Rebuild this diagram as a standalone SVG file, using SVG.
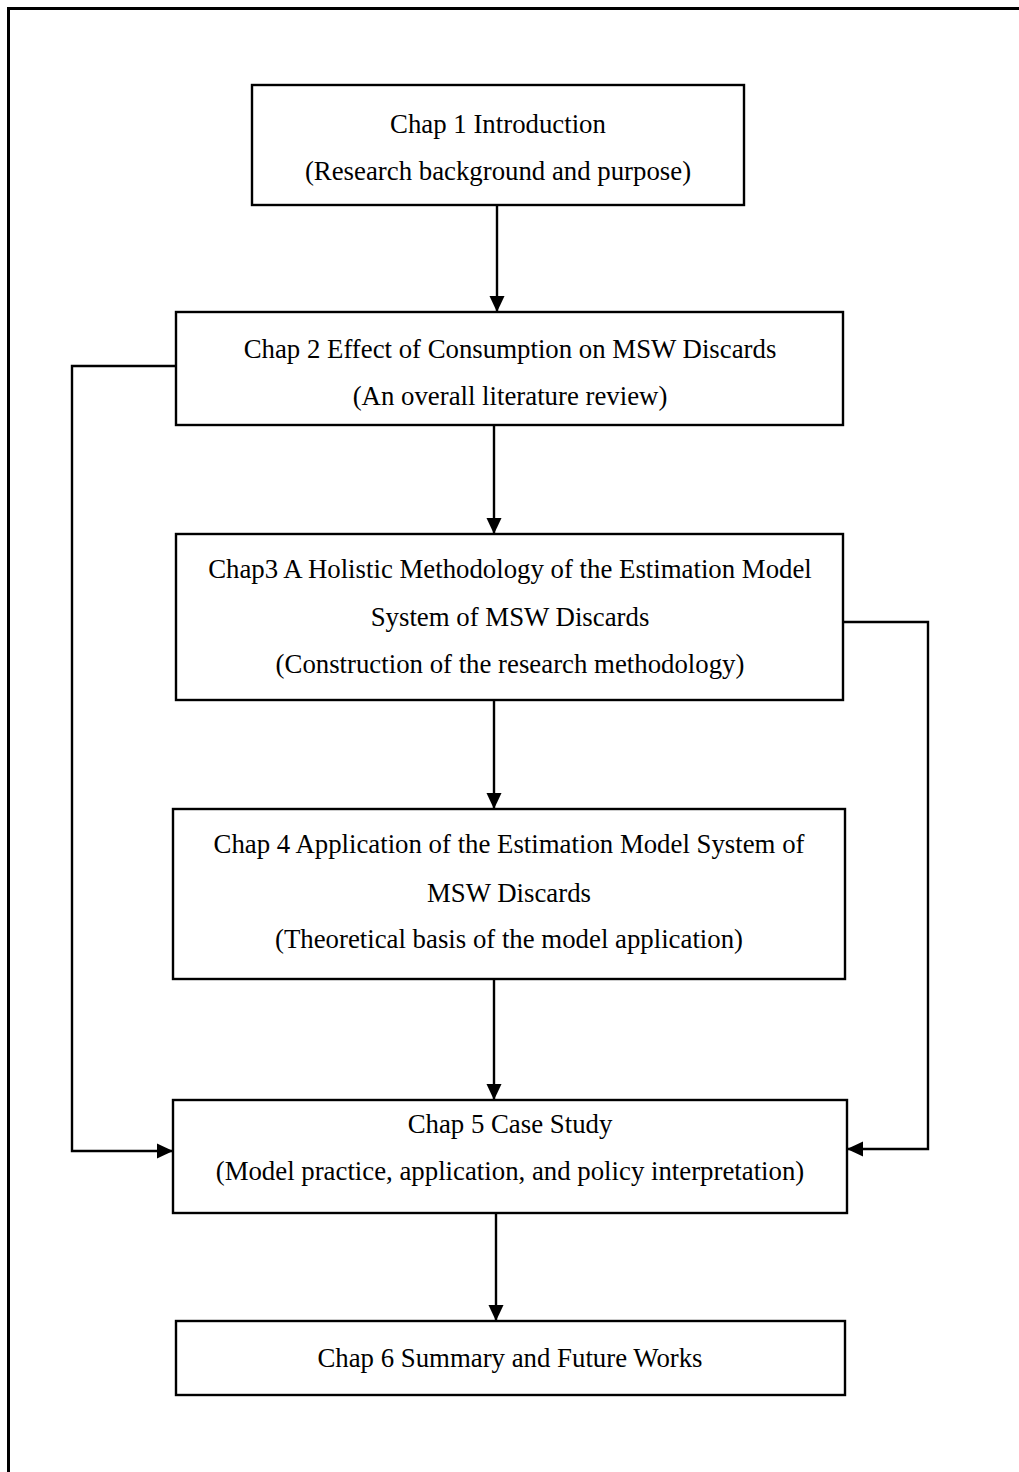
<svg xmlns="http://www.w3.org/2000/svg" width="1019" height="1472" viewBox="0 0 1019 1472">
<defs>
<marker id="arr" viewBox="0 0 10 10" refX="10" refY="5" markerWidth="16" markerHeight="16" markerUnits="userSpaceOnUse" orient="auto">
<path d="M0,0.3 L10,5 L0,9.7 Z" fill="#000"/>
</marker>
<style>
.box{fill:#fff;stroke:#000;stroke-width:2.4}
.t{font-size:26.8px;fill:#000;text-anchor:middle}
.c{fill:none;stroke:#000;stroke-width:2.4}
</style>
</defs>
<rect x="0" y="0" width="1019" height="1472" fill="#fff"/>
<rect x="8.5" y="8.5" width="1030" height="1490" fill="none" stroke="#000" stroke-width="3"/>
<g id="connectors">
<line class="c" x1="497" y1="205" x2="497" y2="312" marker-end="url(#arr)"/>
<line class="c" x1="494" y1="425" x2="494" y2="534" marker-end="url(#arr)"/>
<line class="c" x1="494" y1="700" x2="494" y2="809" marker-end="url(#arr)"/>
<line class="c" x1="494" y1="979" x2="494" y2="1100" marker-end="url(#arr)"/>
<line class="c" x1="496" y1="1213" x2="496" y2="1321" marker-end="url(#arr)"/>
<polyline class="c" points="176,366 72,366 72,1151 173,1151" marker-end="url(#arr)"/>
<polyline class="c" points="843,622 928,622 928,1149 847,1149" marker-end="url(#arr)"/>
</g>
<g font-family="'Liberation Serif', 'Times New Roman', Times, serif">
<g id="n1">
<rect class="box" x="252" y="85" width="492" height="120"/>
<text class="t" x="498" y="133">Chap 1 Introduction</text>
<text class="t" x="498" y="180">(Research background and purpose)</text>
</g>
<g id="n2">
<rect class="box" x="176" y="312" width="667" height="113"/>
<text class="t" x="510" y="358">Chap 2 Effect of Consumption on MSW Discards</text>
<text class="t" x="510" y="405">(An overall literature review)</text>
</g>
<g id="n3">
<rect class="box" x="176" y="534" width="667" height="166"/>
<text class="t" x="510" y="578">Chap3 A Holistic Methodology of the Estimation Model</text>
<text class="t" x="510" y="626">System of MSW Discards</text>
<text class="t" x="510" y="673">(Construction of the research methodology)</text>
</g>
<g id="n4">
<rect class="box" x="173" y="809" width="672" height="170"/>
<text class="t" x="509" y="853">Chap 4 Application of the Estimation Model System of</text>
<text class="t" x="509" y="902">MSW Discards</text>
<text class="t" x="509" y="948">(Theoretical basis of the model application)</text>
</g>
<g id="n5">
<rect class="box" x="173" y="1100" width="674" height="113"/>
<text class="t" x="510" y="1133">Chap 5 Case Study</text>
<text class="t" x="510" y="1180">(Model practice, application, and policy interpretation)</text>
</g>
<g id="n6">
<rect class="box" x="176" y="1321" width="669" height="74"/>
<text class="t" x="510" y="1367">Chap 6 Summary and Future Works</text>
</g>
</g>
</svg>
